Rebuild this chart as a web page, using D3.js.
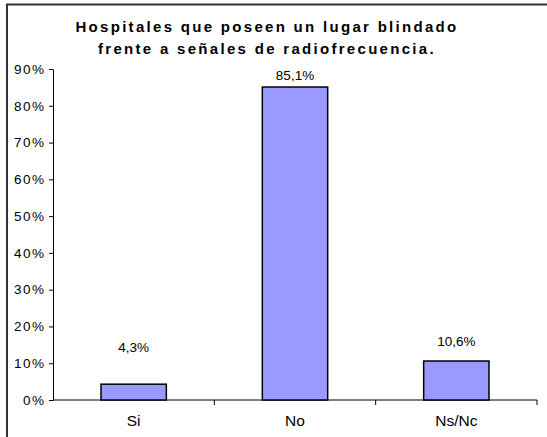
<!DOCTYPE html>
<html>
<head>
<meta charset="utf-8">
<script src="https://cdn.jsdelivr.net/npm/d3@7"></script>
<style>
  body { margin: 0; background: #fff; }
  svg { display: block; font-family: "Liberation Sans", Arial, sans-serif; }
</style>
</head>
<body>
<svg width="547" height="437"></svg>
<script>
// chart data
const categories = ['Si', 'No', 'Ns/Nc'];
const values = [4.3, 85.1, 10.6];
const valueLabels = ['4,3%', '85,1%', '10,6%'];
const yTicks = [0, 10, 20, 30, 40, 50, 60, 70, 80, 90];
const titleLines = ['Hospitales que poseen un lugar blindado', 'frente a señales de radiofrecuencia.'];

const svg = d3.select('svg');

// outer frame (only top and left edges are visible)
svg.append('path')
    .attr('d', 'M7,600 V4.5 H560')
    .attr('fill', 'none')
    .attr('stroke', '#333')
    .attr('stroke-width', 2);

// title
svg.append('g').selectAll('text')
    .data(titleLines)
    .enter().append('text')
    .attr('x', 267)
    .attr('y', (d, i) => 32 + i * 22)
    .attr('text-anchor', 'middle')
    .attr('font-size', 15)
    .attr('font-weight', 'bold')
    .attr('letter-spacing', 2.3)
    .text(d => d);

const plot = { left: 53, right: 537, top: 69, bottom: 400 };

const x = d3.scaleBand()
    .domain(categories)
    .range([plot.left, plot.right])
    .paddingInner(0.595)
    .paddingOuter(0.2975);

const y = d3.scaleLinear()
    .domain([0, 90])
    .range([plot.bottom, plot.top]);

// y axis
const yAxis = svg.append('g')
    .attr('transform', `translate(${plot.left},0)`)
    .call(d3.axisLeft(y).tickValues(yTicks).tickSize(4).tickSizeOuter(0).tickFormat(d => d + '%'));
yAxis.select('.domain').attr('stroke', '#000');
yAxis.selectAll('.tick line').attr('stroke', '#000');
yAxis.selectAll('.tick text')
    .attr('font-size', 13.5)
    .attr('letter-spacing', 1.5)
    .attr('font-family', '"Liberation Sans", Arial, sans-serif')
    .attr('fill', '#000')
    .attr('x', -7.5);

// x axis with ticks between categories
const xAxis = svg.append('g')
    .attr('transform', `translate(0,${plot.bottom})`);
xAxis.append('line')
    .attr('x1', plot.left).attr('x2', plot.right)
    .attr('stroke', '#000');
xAxis.selectAll('line.sep')
    .data(categories)
    .enter().append('line')
    .attr('class', 'sep')
    .attr('x1', d => x(d) + x.bandwidth() / 2 + x.step() / 2)
    .attr('x2', d => x(d) + x.bandwidth() / 2 + x.step() / 2)
    .attr('y1', 0).attr('y2', 5)
    .attr('stroke', '#000');
xAxis.selectAll('text')
    .data(categories)
    .enter().append('text')
    .attr('x', d => x(d) + x.bandwidth() / 2)
    .attr('y', 26)
    .attr('text-anchor', 'middle')
    .attr('font-size', 15.5)
    .text(d => d);

// bars
svg.append('g').selectAll('rect')
    .data(values)
    .enter().append('rect')
    .attr('x', (d, i) => x(categories[i]))
    .attr('y', d => y(d))
    .attr('width', x.bandwidth())
    .attr('height', d => plot.bottom - y(d))
    .attr('fill', '#9999ff')
    .attr('stroke', '#000')
    .attr('stroke-width', 1.5);

// value labels (Excel placed them at uneven heights)
const labelLift = [37, 12, 20];
svg.append('g').selectAll('text')
    .data(values)
    .enter().append('text')
    .attr('x', (d, i) => x(categories[i]) + x.bandwidth() / 2)
    .attr('y', (d, i) => y(d) - labelLift[i] + 5)
    .attr('text-anchor', 'middle')
    .attr('font-size', 13.5)
    .text((d, i) => valueLabels[i]);
</script>
</body>
</html>
